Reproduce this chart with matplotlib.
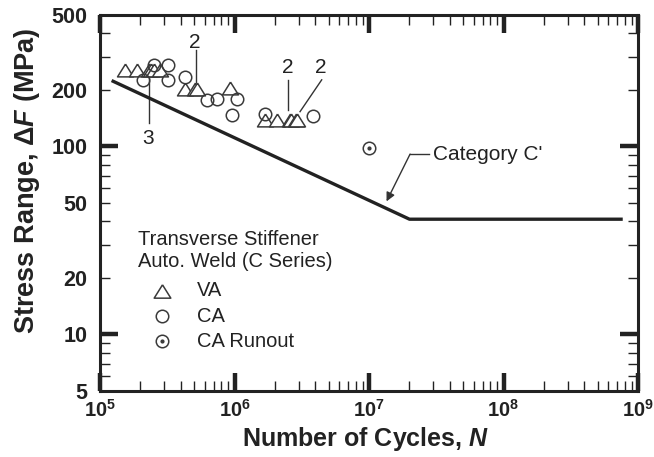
import matplotlib
matplotlib.use("Agg")
import matplotlib.pyplot as plt
from matplotlib.ticker import FixedLocator, FixedFormatter, NullFormatter

plt.rcParams['font.family'] = ['Liberation Sans', 'DejaVu Sans']
plt.rcParams['mathtext.fontset'] = 'custom'
plt.rcParams['mathtext.rm'] = 'Liberation Sans'
plt.rcParams['mathtext.bf'] = 'Liberation Sans:bold'
plt.rcParams['mathtext.it'] = 'Liberation Sans:italic'
plt.rcParams['mathtext.bfit'] = 'Liberation Sans:bold:italic'

# ---- data ----
va_N = [1.54e5, 1.88e5, 2.3e5, 2.4e5, 2.5e5, 2.8e5,
        4.3e5, 5.1e5, 5.3e5, 9.3e5,
        1.69e6, 2.06e6, 2.57e6, 2.62e6, 2.85e6, 2.93e6]
va_S = [255, 255, 255, 255, 255, 255,
        203, 203, 203, 204,
        138, 138, 138, 138, 138, 138]

ca_N = [2.5e5, 3.2e5, 2.09e5, 3.2e5, 4.3e5, 6.2e5, 7.4e5, 1.04e6, 9.5e5, 1.69e6, 3.86e6]
ca_S = [270, 270, 225, 225, 235, 177, 178, 178, 147, 149, 145]

runout_N = [1.0e7]
runout_S = [98]

cat_N = [1.22e5, 2.0e7, 7.7e8]
cat_S = [224, 41, 41]

x_ticks = [1e5, 1e6, 1e7, 1e8, 1e9]
x_labels = [r'$\mathbf{10^{5}}$', r'$\mathbf{10^{6}}$', r'$\mathbf{10^{7}}$',
            r'$\mathbf{10^{8}}$', r'$\mathbf{10^{9}}$']
y_major = [10, 100]
y_labels = {5: '5', 10: '10', 20: '20', 50: '50', 100: '100', 200: '200', 500: '500'}

legend_title = ['Transverse Stiffener', 'Auto. Weld (C Series)']
legend_entries = ['VA', 'CA', 'CA Runout']

# ---- figure ----
fig = plt.figure(figsize=(6.54, 4.57), dpi=100)
ax = fig.add_axes([100/654, 1-391/457, 538/654, 376/457])
ax.set_xscale('log')
ax.set_yscale('log')
ax.set_xlim(1e5, 1e9)
ax.set_ylim(5, 500)

dark = '#222222'
mk = '#3a3a3a'
tri = [(0, 0.8), (-1, -0.8), (1, -0.8), (0, 0.8)]

ax.plot(cat_N, cat_S, color=dark, lw=2.4, solid_capstyle='butt', zorder=3)
ax.plot(va_N, va_S, linestyle='none', marker=tri, ms=11.5, mfc='white', mec=mk, mew=1.1, zorder=4)
ax.plot(ca_N, ca_S, linestyle='none', marker='o', ms=9, mfc='none', mec=mk, mew=1.1, zorder=5)
ax.plot(runout_N, runout_S, linestyle='none', marker='o', ms=9, mfc='none', mec=mk, mew=1.1, zorder=5)
ax.plot(runout_N, runout_S, linestyle='none', marker='o', ms=2, mfc=mk, mec=mk, zorder=5)

# annotations
lc = '#333333'
afs = 15
ax.plot([5.2e5, 5.2e5], [326, 220], color=lc, lw=1)
ax.text(5.1e5, 359, '2', fontsize=afs, ha='center', va='center', color=dark)
ax.plot([2.31e5, 2.31e5], [234, 133], color=lc, lw=1)
ax.text(2.27e5, 110, '3', fontsize=afs, ha='center', va='center', color=dark)
ax.plot([2.5e6, 2.5e6], [226, 156], color=lc, lw=1)
ax.text(2.5e6, 263, '2', fontsize=afs, ha='center', va='center', color=dark)
ax.plot([4.45e6, 3.07e6], [226, 153], color=lc, lw=1)
ax.text(4.4e6, 263, '2', fontsize=afs, ha='center', va='center', color=dark)

ax.plot([2.02e7, 2.8e7], [91, 91], color=lc, lw=1)
ax.annotate('', xy=(1.35e7, 51), xytext=(2.02e7, 91),
            arrowprops=dict(arrowstyle='-|>', color=lc, lw=1, mutation_scale=13,
                            shrinkA=0, shrinkB=0))
ax.text(2.99e7, 91, "Category C'", fontsize=afs, ha='left', va='center', color=dark)

# legend (manual)
lfs = 14.5
ax.text(1.92e5, 31.8, legend_title[0], fontsize=lfs, ha='left', va='center', color=dark)
ax.text(1.92e5, 24.5, legend_title[1], fontsize=lfs, ha='left', va='center', color=dark)
lx = 2.89e5
ly = [17.1, 12.5, 9.22]
ax.plot([lx], [ly[0]], marker=tri, ms=12, mfc='white', mec=mk, mew=1.1, linestyle='none')
ax.plot([lx], [ly[1]], marker='o', ms=9, mfc='none', mec=mk, mew=1.1, linestyle='none')
ax.plot([lx], [ly[2]], marker='o', ms=9, mfc='none', mec=mk, mew=1.1, linestyle='none')
ax.plot([lx], [ly[2]], marker='o', ms=2, mfc=mk, mec=mk, linestyle='none')
for yy, t in zip(ly, legend_entries):
    ax.text(5.24e5, yy, t, fontsize=lfs, ha='left', va='center', color=dark)

# ticks
ax.xaxis.set_major_locator(FixedLocator(x_ticks))
ax.xaxis.set_major_formatter(FixedFormatter(x_labels))
xmin = [m * 10**e for e in range(5, 9) for m in range(2, 10)]
ax.xaxis.set_minor_locator(FixedLocator(xmin))
ax.xaxis.set_minor_formatter(NullFormatter())

ax.yaxis.set_major_locator(FixedLocator(y_major))
ax.yaxis.set_major_formatter(FixedFormatter([y_labels[v] for v in y_major]))
ymin = [m * 10**e for e in range(0, 3) for m in range(2, 10) if 5 <= m * 10**e <= 500]
ax.yaxis.set_minor_locator(FixedLocator(ymin))
ax.yaxis.set_minor_formatter(FixedFormatter([y_labels.get(v, '') for v in ymin]))

ax.tick_params(which='both', direction='in', top=True, right=True, colors=dark)
ax.tick_params(which='major', length=13, width=3.2)
ax.tick_params(which='minor', length=7, width=1.0)
ax.tick_params(axis='y', which='both', labelsize=15.5, pad=9)
ax.tick_params(axis='x', which='both', labelsize=14.5, pad=6)
for lab in ax.get_yticklabels(which='both'):
    lab.set_fontweight('bold')
for lab in ax.get_xticklabels():
    lab.set_fontweight('bold')

for s in ax.spines.values():
    s.set_linewidth(2.2)
    s.set_color(dark)

ax.set_xlabel(r'Number of Cycles, $\mathbfit{N}$', fontsize=18, fontweight='bold', color=dark)
ax.set_ylabel(r'Stress Range, $\mathbf{\Delta}\mathbfit{F}$ (MPa)', fontsize=19.5, fontweight='bold', color=dark)
ax.xaxis.set_label_coords(0.494, -0.09)
ax.yaxis.label.set_va('center')
ax.yaxis.set_label_coords(-0.136, 0.559)

fig.savefig('out.png', dpi=100)
